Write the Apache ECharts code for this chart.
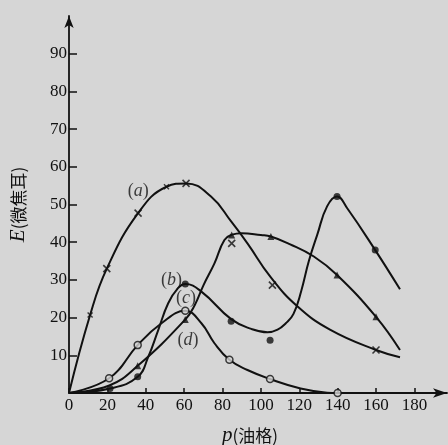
<!DOCTYPE html>
<html>
<head>
<meta charset="utf-8">
<script src="https://cdn.jsdelivr.net/npm/echarts@6/dist/echarts.min.js"></script>
<style>
  html, body { margin: 0; padding: 0; background: #d6d6d6; }
  #chart { width: 448px; height: 445px; }
</style>
</head>
<body>
<div id="chart"></div>
<script>
// 读图得到的数据 p(油格) - E(微焦耳)
const xTicks = [0, 20, 40, 60, 80, 100, 120, 140, 160, 180];
const yTicks = [10, 20, 30, 40, 50, 60, 70, 80, 90];

// 曲线 (a)
const curveA = [[0, 0], [11, 20.7], [19.7, 33], [36, 47.7], [50.8, 54.7], [61, 55.6], [74, 52.1], [84.5, 45.5], [93, 39.7], [105, 30.8], [119, 23], [136, 16.8], [160, 11.4], [172.5, 9.5]];
const markA = [[19.7, 33], [36, 47.7], [61, 55.6], [84.8, 39.7], [106, 28.6], [160, 11.4]];
const smallA = [[11, 20.7], [50.8, 54.7]];

// 曲线 (b)
const curveB = [[0, 0], [21.4, 1.2], [35.8, 4.3], [41.3, 9.6], [46.5, 16.7], [51.7, 23.8], [56.8, 27.8], [60.6, 28.9], [69, 26.9], [84.5, 19.6], [95, 17], [103.5, 16.1], [108.7, 16.8], [113, 18.5], [117, 21], [121, 27], [125, 35], [129.4, 42], [134.5, 49.5], [139.7, 52.1], [145, 49], [159.6, 37.9], [172.5, 27.5]];
const markB = [[21.4, 1.2], [35.8, 4.3], [60.6, 28.9], [84.5, 19], [104.8, 14], [139.7, 52.1], [159.6, 37.9]];

// 曲线 (c)
const curveC = [[0, 0], [21, 2], [35.8, 7.2], [60.6, 19.5], [65.5, 23.3], [70, 28.5], [75.8, 34.4], [81, 40.6], [85, 42], [90, 42.4], [100, 41.9], [105.2, 41.5], [115, 39.5], [127.6, 36.2], [139.7, 31.3], [160, 20.2], [172.5, 11.4]];
const markC = [[35.8, 7.2], [60.6, 19.5], [84.8, 41.9], [105.2, 41.5], [139.7, 31.3], [160, 20.2]];

// 曲线 (d)
const curveD = [[0, 0], [20.9, 3.9], [35.8, 12.7], [48.2, 18.5], [60.6, 21.8], [69, 18.5], [75.8, 13.2], [83.6, 8.8], [93, 6.1], [104.8, 3.7], [120.7, 1.2], [134.5, 0.1], [140, 0]];
const markD = [[20.9, 3.9], [35.8, 12.7], [60.6, 21.8], [83.6, 8.8], [104.8, 3.7], [140, 0]];

// 曲线标注
const curveLabels = [[36.1, 53.4, "a"], [53.4, 30, "b"], [61, 25.1, "c"], [62, 14.1, "d"]];

const ink = "#111";
const bg = "#d6d6d6";
const serif = "Liberation Serif, DejaVu Serif, serif";
const cross = "path://M0,0L10,10M10,0L0,10";

const lineSeries = (data) => ({
  type: "line",
  data: data,
  smooth: 0.45,
  showSymbol: false,
  lineStyle: { color: ink, width: 2 },
  z: 2,
});

const chart = echarts.init(document.getElementById("chart"));
chart.setOption({
  animation: false,
  backgroundColor: bg,
  grid: { left: 67, right: 1, top: 16, bottom: 52 },
  xAxis: {
    type: "value",
    min: 0,
    max: 197,
    interval: 20,
    splitLine: { show: false },
    axisLine: {
      lineStyle: { color: ink, width: 1.8 },
      symbol: ["none", "arrow"],
      symbolSize: [7, 14],
    },
    axisTick: { inside: true, length: 5, customValues: xTicks, lineStyle: { color: ink, width: 1.5 } },
    axisLabel: {
      customValues: xTicks,
      margin: 4,
      color: ink,
      fontFamily: serif,
      fontSize: 17,
    },
  },
  yAxis: {
    type: "value",
    min: 0,
    max: 100,
    interval: 10,
    splitLine: { show: false },
    axisLine: {
      lineStyle: { color: ink, width: 1.8 },
      symbol: ["none", "arrow"],
      symbolSize: [7, 12],
    },
    axisTick: { inside: true, length: 8, customValues: yTicks, lineStyle: { color: ink, width: 1.5 } },
    axisLabel: {
      customValues: yTicks,
      margin: 2,
      color: ink,
      fontFamily: serif,
      fontSize: 17,
    },
    name: "{i|E}(微焦耳)",
    nameLocation: "middle",
    nameGap: 40,
    nameTextStyle: {
      color: ink,
      fontFamily: "Noto Sans CJK SC",
      fontSize: 17,
      rich: { i: { fontFamily: serif, fontStyle: "italic", fontSize: 21, color: ink } },
    },
  },
  graphic: [
    {
      type: "text",
      left: 222,
      top: 425,
      style: {
        text: "{i|p}(油格)",
        fill: ink,
        font: "17px 'Noto Sans CJK SC'",
        rich: { i: { fontFamily: serif, fontStyle: "italic", fontSize: 21, fill: ink } },
      },
    },
  ],
  series: [
    lineSeries(curveA),
    lineSeries(curveB),
    lineSeries(curveC),
    lineSeries(curveD),
    {
      type: "scatter",
      data: markA,
      symbol: cross,
      symbolSize: 7,
      itemStyle: { color: "transparent", borderColor: ink, borderWidth: 1.6 },
      z: 3,
    },
    {
      type: "scatter",
      data: smallA,
      symbol: cross,
      symbolSize: 5,
      itemStyle: { color: "transparent", borderColor: ink, borderWidth: 1.4 },
      z: 3,
    },
    {
      type: "scatter",
      data: markB,
      symbol: "circle",
      symbolSize: 7,
      itemStyle: { color: ink },
      z: 3,
    },
    {
      type: "scatter",
      data: markC,
      symbol: "triangle",
      symbolSize: 7,
      itemStyle: { color: ink },
      z: 3,
    },
    {
      type: "scatter",
      data: markD,
      symbol: "circle",
      symbolSize: 7,
      itemStyle: { color: bg, borderColor: ink, borderWidth: 1.5 },
      z: 4,
    },
    {
      type: "scatter",
      data: curveLabels,
      symbolSize: 0,
      label: {
        show: true,
        position: "inside",
        formatter: (p) => "(" + "{i|" + p.value[2] + "})",
        color: ink,
        fontFamily: serif,
        fontSize: 18,
        rich: { i: { fontFamily: serif, fontStyle: "italic", fontSize: 18, color: ink } },
      },
      z: 5,
    },
  ],
});
</script>
</body>
</html>
